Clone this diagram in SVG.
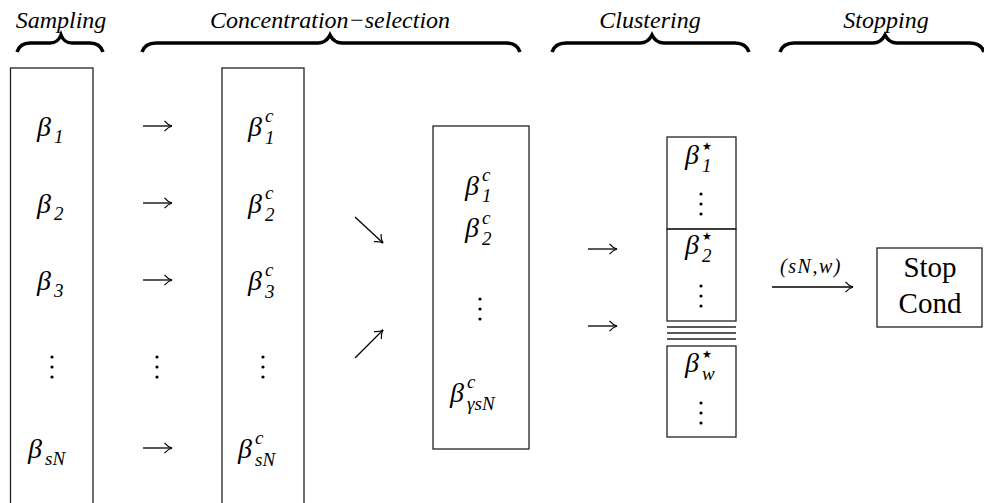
<svg xmlns="http://www.w3.org/2000/svg" width="984" height="503" viewBox="0 0 984 503">
<style>
text{font-family:'Liberation Serif','Times New Roman','DejaVu Serif',serif;fill:#000}
.lbl{font-size:24px;font-style:italic;text-anchor:middle}
.b{font-size:28px;font-style:italic}
.s{font-size:19px;font-style:italic}
.r{font-size:11px}
.rm{font-size:29px;text-anchor:middle}
.box{fill:none;stroke:#222;stroke-width:1.3}
.brace{fill:none;stroke:#000;stroke-width:3.5;stroke-linecap:butt}
.arr{fill:none;stroke:#000;stroke-width:1.3;marker-end:url(#ah)}
.dot{fill:#000}
</style>
<defs>
<marker id="ah" viewBox="0 0 10 12" refX="9" refY="6" markerWidth="10" markerHeight="12" markerUnits="userSpaceOnUse" orient="auto">
<path d="M1.5,0.8 Q5,5 9,6 Q5,7 1.5,11.2" fill="none" stroke="#000" stroke-width="1.2"/>
</marker>
<g id="vd"><circle cx="0" cy="-10" r="1.6" class="dot"/><circle cx="0" cy="0" r="1.6" class="dot"/><circle cx="0" cy="10" r="1.6" class="dot"/></g>
</defs>

<g id="braces">
<text class="lbl" x="61" y="28">Sampling</text>
<path class="brace" d="M17,52 Q20,43 30,43 L50,43 Q58,43 61,35 Q64,43 72,43 L90,43 Q100,43 103,52"/>
<text class="lbl" x="330" y="28">Concentration−selection</text>
<path class="brace" d="M142,52 Q145,43 156,43 L318,43 Q326,43 330,35 Q334,43 342,43 L506,43 Q517,43 520,52"/>
<text class="lbl" x="650" y="28">Clustering</text>
<path class="brace" d="M552,52 Q555,43 566,43 L640,43 Q648,43 652,35 Q656,43 664,43 L735,43 Q746,43 749,52"/>
<text class="lbl" x="886" y="28">Stopping</text>
<path class="brace" d="M780,52 Q783,43 794,43 L873,43 Q881,43 885,35 Q889,43 897,43 L970,43 Q981,43 984,52"/>
</g>

<g id="sampling">
<rect class="box" x="10.5" y="68" width="82.5" height="460"/>
<text class="b" x="37" y="136">β</text><text class="s" x="54" y="143">1</text>
<text class="b" x="37" y="213">β</text><text class="s" x="54" y="220">2</text>
<text class="b" x="37" y="290">β</text><text class="s" x="54" y="297">3</text>
<use href="#vd" x="52" y="367"/>
<text class="b" x="28" y="458">β</text><text class="s" x="45" y="465">sN</text>
</g>

<g id="selected">
<rect class="box" x="222" y="68" width="82" height="460"/>
<text class="b" x="248" y="136">β</text><text class="s" x="265" y="122">c</text><text class="s" x="265" y="144">1</text>
<text class="b" x="248" y="213">β</text><text class="s" x="265" y="199">c</text><text class="s" x="265" y="221">2</text>
<text class="b" x="248" y="290">β</text><text class="s" x="265" y="276">c</text><text class="s" x="265" y="298">3</text>
<use href="#vd" x="263" y="367"/>
<text class="b" x="238" y="458">β</text><text class="s" x="255" y="444">c</text><text class="s" x="255" y="466">sN</text>
</g>

<g id="mid-dots">
<use href="#vd" x="157" y="367"/>
</g>

<g id="concentrated">
<rect class="box" x="433" y="126" width="96" height="323"/>
<text class="b" x="465" y="195">β</text><text class="s" x="482" y="181">c</text><text class="s" x="482" y="202">1</text>
<text class="b" x="465" y="237">β</text><text class="s" x="482" y="224">c</text><text class="s" x="482" y="245">2</text>
<use href="#vd" x="480" y="309"/>
<text class="b" x="450" y="402">β</text><text class="s" x="467" y="388">c</text><text class="s" x="467" y="410">γsN</text>
</g>

<g id="clusters">
<rect class="box" x="667" y="137" width="69" height="92"/>
<text class="b" x="685" y="164">β</text><text class="r" x="702" y="150">★</text><text class="s" x="702" y="172">1</text>
<use href="#vd" x="701" y="204"/>
<rect class="box" x="667" y="229" width="69" height="92"/>
<text class="b" x="685" y="254">β</text><text class="r" x="702" y="240">★</text><text class="s" x="702" y="262">2</text>
<use href="#vd" x="701" y="296"/>
<line class="box" x1="667" y1="327" x2="736" y2="327"/>
<line class="box" x1="667" y1="333" x2="736" y2="333"/>
<line class="box" x1="667" y1="339" x2="736" y2="339" stroke="#666"/>
<rect class="box" x="667" y="346" width="69" height="91"/>
<text class="b" x="685" y="372">β</text><text class="r" x="702" y="358">★</text><text class="s" x="702" y="380">w</text>
<use href="#vd" x="701" y="413"/>
</g>

<g id="stop">
<rect class="box" x="877" y="248" width="105" height="79"/>
<text class="rm" x="930" y="277">Stop</text>
<text class="rm" x="930" y="313">Cond</text>
</g>

<g id="connectors">
<path class="arr" d="M143,126 H172"/>
<path class="arr" d="M143,203 H172"/>
<path class="arr" d="M143,280 H172"/>
<path class="arr" d="M143,448 H172"/>
<path class="arr" d="M355,217 L383,243"/>
<path class="arr" d="M355,358 L383,330"/>
<path class="arr" d="M588,249 H617"/>
<path class="arr" d="M588,326 H617"/>
<path class="arr" d="M772,287 H853"/>
<text x="811" y="273" style="font-size:20px;font-style:italic;text-anchor:middle;letter-spacing:1.5px">(sN,w)</text>
</g>
</svg>
